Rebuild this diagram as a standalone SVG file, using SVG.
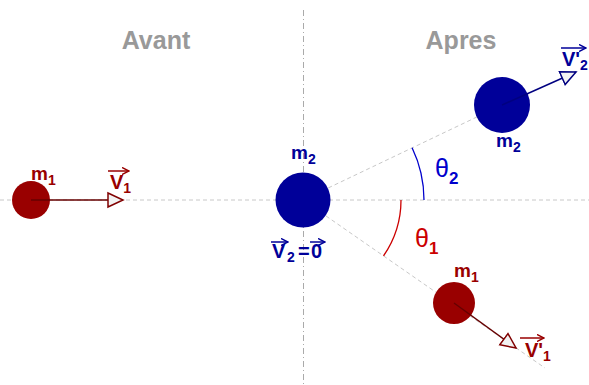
<svg xmlns="http://www.w3.org/2000/svg" width="589" height="385" viewBox="0 0 589 385">
<style>
.guide{stroke:#c8c8c8;stroke-width:1;stroke-dasharray:4,3;fill:none}
.axis{stroke:#aaa;stroke-width:1;stroke-dasharray:6,3,1,3;fill:none}
.title{font-family:"Liberation Sans",Arial,sans-serif;font-weight:bold;font-size:25px;fill:#999;text-anchor:middle}
.lbl{font-family:"Liberation Sans",Arial,sans-serif;font-weight:bold;font-size:19px}
.vl{font-family:"Liberation Sans",Arial,sans-serif;font-weight:bold;font-size:20px}
.sub{font-size:14px}
.th{font-family:"Liberation Sans",Arial,sans-serif;font-size:25px}
.red{fill:#990000}
.blue{fill:#000099}
.ov{fill:none;stroke-width:1.5}
</style>
<defs>
<marker id="hr" markerUnits="userSpaceOnUse" markerWidth="18" markerHeight="18" viewBox="-1 -8 18 16" refX="15" refY="0" orient="auto">
<path d="M0,-7 L15,0 L0,7 Z" fill="#f2f2f2" stroke="#800000" stroke-width="1.5"/>
</marker>
<marker id="hb" markerUnits="userSpaceOnUse" markerWidth="18" markerHeight="18" viewBox="-1 -8 18 16" refX="15" refY="0" orient="auto">
<path d="M0,-7 L15,0 L0,7 Z" fill="#f2f2f2" stroke="#000080" stroke-width="1.5"/>
</marker>
<marker id="sr" markerUnits="userSpaceOnUse" markerWidth="8" markerHeight="8" viewBox="0 -4 8 8" refX="7" refY="0" orient="auto">
<path d="M0,-3.5 L7,0 L0,3.5" fill="none" stroke="#990000" stroke-width="1.5"/>
</marker>
<marker id="sb" markerUnits="userSpaceOnUse" markerWidth="8" markerHeight="8" viewBox="0 -4 8 8" refX="7" refY="0" orient="auto">
<path d="M0,-3.5 L7,0 L0,3.5" fill="none" stroke="#000099" stroke-width="1.5"/>
</marker>
</defs>

<g id="guides">
<line class="axis" x1="303.5" y1="10" x2="303.5" y2="385"/>
<line class="guide" x1="0" y1="200" x2="589" y2="200"/>
<line class="guide" x1="303" y1="200" x2="502" y2="105"/>
<line class="guide" x1="303" y1="200" x2="545" y2="368"/>
</g>

<text class="title" x="156" y="49">Avant</text>
<text class="title" x="461" y="49">Apres</text>

<g id="angles">
<path d="M424,200 A121,121 0 0 0 412.1,147.7" fill="none" stroke="#0000cc" stroke-width="1.3"/>
<path d="M401,200 A98,98 0 0 1 383.5,255.9" fill="none" stroke="#cc0000" stroke-width="1.3"/>
<text class="th" x="435" y="177" fill="#0000cc">θ<tspan font-size="17" font-weight="bold" dy="7">2</tspan></text>
<text class="th" x="415" y="247" fill="#cc0000">θ<tspan font-size="17" font-weight="bold" dy="7">1</tspan></text>
</g>

<g id="m1-before">
<circle cx="31" cy="200" r="19" fill="#990000"/>
<text class="lbl red" x="31" y="180">m<tspan class="sub" dy="5">1</tspan></text>
</g>

<g id="m2-before">
<circle cx="303" cy="200" r="27.5" fill="#000099"/>
<text class="lbl blue" x="291" y="159">m<tspan class="sub" dy="5">2</tspan></text>
<text class="vl blue" x="272" y="258">V</text>
<text class="vl blue sub" x="287" y="262">2</text>
<text class="vl blue" x="298" y="258">=</text>
<text class="vl blue" x="311" y="258">0</text>
<line class="ov" stroke="#000099" x1="271" y1="242" x2="288" y2="242" marker-end="url(#sb)"/>
<line class="ov" stroke="#000099" x1="310" y1="242" x2="325" y2="242" marker-end="url(#sb)"/>
</g>

<g id="m2-after">
<circle cx="502" cy="105" r="28" fill="#000099"/>
<text class="lbl blue" x="496" y="147">m<tspan class="sub" dy="5">2</tspan></text>
</g>

<g id="m1-after">
<circle cx="454" cy="303" r="21" fill="#990000"/>
<text class="lbl red" x="454" y="277">m<tspan class="sub" dy="5">1</tspan></text>
</g>

<g id="connectors">
<line x1="31" y1="200" x2="123" y2="200" stroke="#660000" stroke-width="1.5" marker-end="url(#hr)"/>
<line x1="502" y1="105" x2="576" y2="72" stroke="#000080" stroke-width="1.5" marker-end="url(#hb)"/>
<line x1="454" y1="303" x2="516" y2="348" stroke="#660000" stroke-width="1.5" marker-end="url(#hr)"/>
</g>

<g id="velocity-labels">
<text class="vl red" x="110" y="189">V<tspan class="sub" dy="4">1</tspan></text>
<line class="ov" stroke="#990000" x1="108" y1="171" x2="129" y2="171" marker-end="url(#sr)"/>
<text class="vl blue" x="562" y="66">V'<tspan class="sub" dy="4">2</tspan></text>
<line class="ov" stroke="#000099" x1="561" y1="48" x2="586" y2="48" marker-end="url(#sb)"/>
<text class="vl red" x="525" y="357">V'<tspan class="sub" dy="4">1</tspan></text>
<line class="ov" stroke="#990000" x1="520" y1="338" x2="544" y2="338" marker-end="url(#sr)"/>
</g>
</svg>
